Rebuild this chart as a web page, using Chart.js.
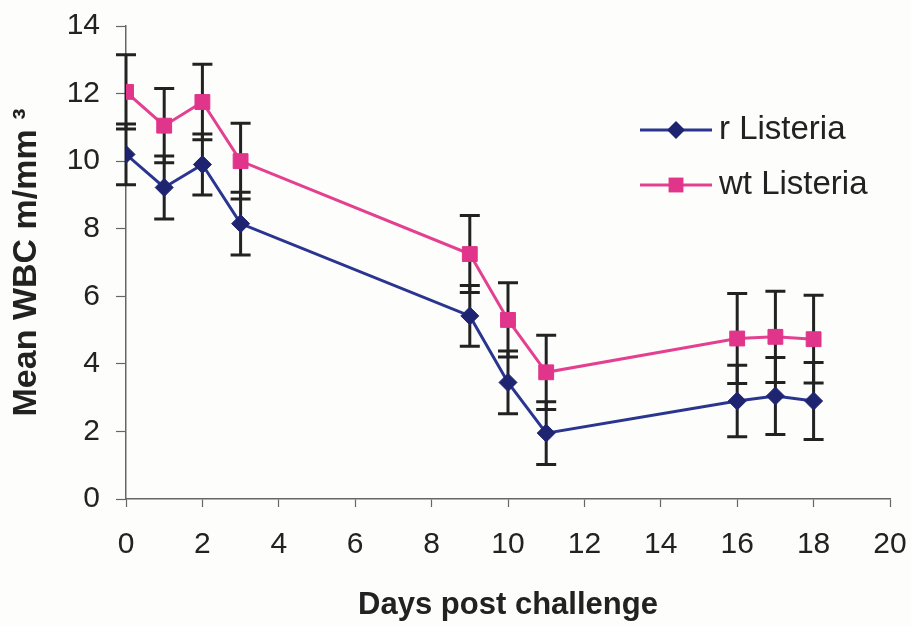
<!DOCTYPE html>
<html>
<head>
<meta charset="utf-8">
<script src="https://cdn.jsdelivr.net/npm/chart.js@4.4.1/dist/chart.umd.min.js"></script>
<style>
    html, body { margin: 0; padding: 0; background: #fdfdfc; }
    #wrap { width: 911px; height: 626px; }
</style>
</head>
<body>
<div id="wrap"><canvas id="wbc-chart" width="911" height="626"></canvas></div>
<script>
const days = [0, 1, 2, 3, 9, 10, 11, 16, 17, 18];
const rListeria = [10.2, 9.22, 9.9, 8.15, 5.42, 3.45, 1.95, 2.9, 3.05, 2.9];
const rListeriaErr = [0.9, 0.93, 0.9, 0.93, 0.9, 0.93, 0.93, 1.06, 1.14, 1.14];
const wtListeria = [12.05, 11.05, 11.75, 10.0, 7.25, 5.3, 3.75, 4.75, 4.8, 4.73];
const wtListeriaErr = [1.1, 1.1, 1.12, 1.12, 1.14, 1.1, 1.1, 1.33, 1.35, 1.3];
const seriesLabels = ['r Listeria', 'wt Listeria'];
const xTicks = [0, 2, 4, 6, 8, 10, 12, 14, 16, 18, 20];
const yTicks = [0, 2, 4, 6, 8, 10, 12, 14];

document.addEventListener('DOMContentLoaded', () => {
    const fontFamily = '"Liberation Sans", Arial, Helvetica, sans-serif';
    const textColor = '#222';

    const toPoints = (vals, errs) => days.map((d, i) => ({ x: d, y: vals[i], err: errs[i] }));

    // vertical bars with caps, drawn under the lines and markers
    const errorBars = {
        id: 'errorBars',
        beforeDatasetsDraw(chart) {
            const { ctx, scales: { x, y } } = chart;
            ctx.save();
            ctx.strokeStyle = '#222';
            ctx.lineWidth = 3;
            chart.data.datasets.forEach(ds => {
                ds.data.forEach(p => {
                    const px = x.getPixelForValue(p.x);
                    const top = y.getPixelForValue(p.y + p.err);
                    const bot = y.getPixelForValue(p.y - p.err);
                    ctx.beginPath();
                    ctx.moveTo(px, top);
                    ctx.lineTo(px, bot);
                    ctx.moveTo(px - 10, top);
                    ctx.lineTo(px + 10, top);
                    ctx.moveTo(px - 10, bot);
                    ctx.lineTo(px + 10, bot);
                    ctx.stroke();
                });
            });
            ctx.restore();
        }
    };

    // legend: line sample with marker, label on the right
    const lineLegend = {
        id: 'lineLegend',
        afterDraw(chart) {
            const ctx = chart.ctx;
            const x0 = 640, x1 = 712, rowY = [130, 185];
            ctx.save();
            chart.data.datasets.forEach((ds, i) => {
                const y = rowY[i];
                ctx.strokeStyle = ds.borderColor;
                ctx.lineWidth = 3;
                ctx.beginPath();
                ctx.moveTo(x0, y);
                ctx.lineTo(x1, y);
                ctx.stroke();
                const cx = (x0 + x1) / 2;
                ctx.fillStyle = ds.pointBackgroundColor;
                ctx.beginPath();
                if (ds.pointStyle === 'rectRot') {
                    const r = ds.pointRadius;
                    ctx.moveTo(cx - r, y);
                    ctx.lineTo(cx, y - r);
                    ctx.lineTo(cx + r, y);
                    ctx.lineTo(cx, y + r);
                    ctx.closePath();
                } else {
                    const s = ds.pointRadius * Math.SQRT1_2;
                    ctx.rect(cx - s, y - s, 2 * s, 2 * s);
                }
                ctx.fill();
                ctx.fillStyle = textColor;
                ctx.font = '33px ' + fontFamily;
                ctx.textBaseline = 'middle';
                ctx.textAlign = 'left';
                ctx.fillText(ds.label, 719, y);
            });
            ctx.restore();
        }
    };

    const ctx = document.getElementById('wbc-chart').getContext('2d');
    new Chart(ctx, {
        type: 'line',
        data: {
            datasets: [{
                label: seriesLabels[0],
                data: toPoints(rListeria, rListeriaErr),
                borderColor: '#2a3590',
                borderWidth: 3,
                pointStyle: 'rectRot',
                pointRadius: 9,
                pointBackgroundColor: '#1f2470',
                pointBorderColor: '#1f2470',
                pointBorderWidth: 1,
                tension: 0
            }, {
                label: seriesLabels[1],
                data: toPoints(wtListeria, wtListeriaErr),
                borderColor: '#e3408f',
                borderWidth: 3,
                pointStyle: 'rect',
                pointRadius: 10.5,
                pointBackgroundColor: '#e0358a',
                pointBorderColor: '#e0358a',
                pointBorderWidth: 1,
                tension: 0
            }]
        },
        options: {
            responsive: false,
            animation: false,
            layout: { padding: { top: 26, right: 21, left: 0, bottom: 0 } },
            scales: {
                x: {
                    type: 'linear',
                    min: 0,
                    max: 20,
                    afterBuildTicks: s => { s.ticks = xTicks.map(v => ({ value: v })); },
                    afterFit: s => { s.height = 127; s.paddingLeft = 0; s.paddingRight = 0; },
                    grid: { drawOnChartArea: false, drawTicks: true, tickLength: 8, color: '#666', tickWidth: 1.2 },
                    border: { display: true, color: '#666', width: 1.5 },
                    ticks: { color: textColor, padding: 20, maxRotation: 0, font: { family: fontFamily, size: 30 } },
                    title: {
                        display: true,
                        text: 'Days post challenge',
                        color: textColor,
                        padding: { top: 0, bottom: 2 },
                        font: { family: fontFamily, size: 31, weight: 'bold' }
                    }
                },
                y: {
                    min: 0,
                    max: 14,
                    afterBuildTicks: s => { s.ticks = yTicks.map(v => ({ value: v })); },
                    afterFit: s => { s.width = 126; s.paddingTop = 0; s.paddingBottom = 0; },
                    grid: { drawOnChartArea: false, drawTicks: true, tickLength: 10, color: '#666', tickWidth: 1.2 },
                    border: { display: true, color: '#666', width: 1.5 },
                    ticks: { color: textColor, padding: 16, font: { family: fontFamily, size: 30 } },
                    title: {
                        display: true,
                        text: 'Mean WBC m/mm ³',
                        color: textColor,
                        padding: { top: 6, bottom: 0 },
                        font: { family: fontFamily, size: 34, weight: 'bold' }
                    }
                }
            },
            plugins: {
                legend: { display: false },
                tooltip: { enabled: false }
            }
        },
        plugins: [errorBars, lineLegend]
    });
});
</script>
</body>
</html>
